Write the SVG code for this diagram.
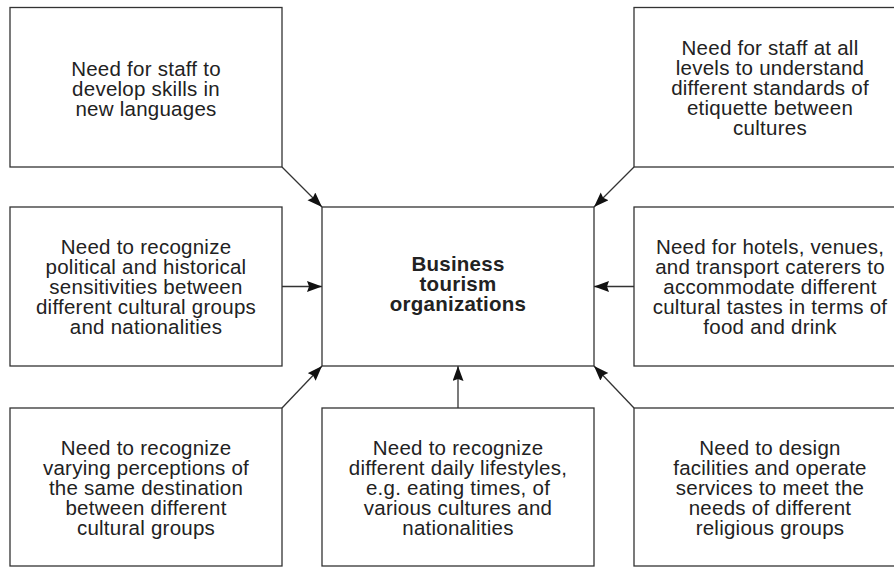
<svg xmlns="http://www.w3.org/2000/svg" width="894" height="567" viewBox="0 0 894 567">
<style>
.box{fill:#fff;stroke:#333;stroke-width:1.3}
.t{font-family:"Liberation Sans",Arial,Helvetica,sans-serif;font-size:20.5px;letter-spacing:0.25px;fill:#222;text-anchor:middle}
.b{font-weight:bold}
.c{fill:none;stroke:#333;stroke-width:1.3}
</style>
<defs>
<marker id="ah" markerUnits="userSpaceOnUse" markerWidth="16" markerHeight="12" refX="15" refY="5.5" orient="auto">
<path d="M0,0 L15,5.5 L0,11 L2,5.5 Z" fill="#111"/>
</marker>
</defs>
<rect width="894" height="567" fill="#fff"/>
<g id="connectors">
<line class="c" x1="282" y1="167" x2="322" y2="207" marker-end="url(#ah)"/>
<line class="c" x1="634" y1="167" x2="594" y2="207" marker-end="url(#ah)"/>
<line class="c" x1="282" y1="286.5" x2="322" y2="286.5" marker-end="url(#ah)"/>
<line class="c" x1="634" y1="286.5" x2="594" y2="286.5" marker-end="url(#ah)"/>
<line class="c" x1="282" y1="408" x2="322" y2="366" marker-end="url(#ah)"/>
<line class="c" x1="458" y1="408" x2="458" y2="366" marker-end="url(#ah)"/>
<line class="c" x1="634" y1="408" x2="594" y2="366" marker-end="url(#ah)"/>
</g>
<g id="center">
<rect class="box" x="322" y="207" width="272" height="159"/>
<text class="t b" x="458"><tspan x="458" y="271">Business</tspan><tspan x="458" y="291">tourism</tspan><tspan x="458" y="311">organizations</tspan></text>
</g>
<g id="languages">
<rect class="box" x="10" y="7.5" width="272" height="159.5"/>
<text class="t" x="146"><tspan x="146" y="76">Need for staff to</tspan><tspan x="146" y="96">develop skills in</tspan><tspan x="146" y="115.5">new languages</tspan></text>
</g>
<g id="etiquette">
<rect class="box" x="634" y="7.5" width="272" height="159.5"/>
<text class="t" x="770"><tspan x="770" y="54.5">Need for staff at all</tspan><tspan x="770" y="74.5">levels to understand</tspan><tspan x="770" y="94.5">different standards of</tspan><tspan x="770" y="114.5">etiquette between</tspan><tspan x="770" y="134.5">cultures</tspan></text>
</g>
<g id="political">
<rect class="box" x="10" y="207" width="272" height="159"/>
<text class="t" x="146"><tspan x="146" y="254">Need to recognize</tspan><tspan x="146" y="274">political and historical</tspan><tspan x="146" y="294">sensitivities between</tspan><tspan x="146" y="314">different cultural groups</tspan><tspan x="146" y="334">and nationalities</tspan></text>
</g>
<g id="catering">
<rect class="box" x="634" y="207" width="272" height="159"/>
<text class="t" x="770"><tspan x="770" y="254">Need for hotels, venues,</tspan><tspan x="770" y="274">and transport caterers to</tspan><tspan x="770" y="294">accommodate different</tspan><tspan x="770" y="314">cultural tastes in terms of</tspan><tspan x="770" y="334">food and drink</tspan></text>
</g>
<g id="perceptions">
<rect class="box" x="10" y="408" width="272" height="158"/>
<text class="t" x="146"><tspan x="146" y="455">Need to recognize</tspan><tspan x="146" y="475">varying perceptions of</tspan><tspan x="146" y="495">the same destination</tspan><tspan x="146" y="515">between different</tspan><tspan x="146" y="535">cultural groups</tspan></text>
</g>
<g id="lifestyles">
<rect class="box" x="322" y="408" width="272" height="158"/>
<text class="t" x="458"><tspan x="458" y="455">Need to recognize</tspan><tspan x="458" y="475">different daily lifestyles,</tspan><tspan x="458" y="495">e.g. eating times, of</tspan><tspan x="458" y="515">various cultures and</tspan><tspan x="458" y="535">nationalities</tspan></text>
</g>
<g id="religious">
<rect class="box" x="634" y="408" width="272" height="158"/>
<text class="t" x="770"><tspan x="770" y="455">Need to design</tspan><tspan x="770" y="475">facilities and operate</tspan><tspan x="770" y="495">services to meet the</tspan><tspan x="770" y="515">needs of different</tspan><tspan x="770" y="535">religious groups</tspan></text>
</g>
</svg>
